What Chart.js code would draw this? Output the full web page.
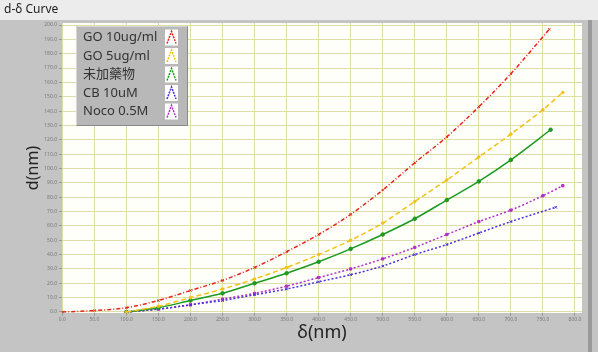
<!DOCTYPE html>
<html>
<head>
<meta charset="utf-8">
<script src="https://cdn.jsdelivr.net/npm/chart.js@4/dist/chart.umd.min.js"></script>
<style>
  body { margin: 0; background: #c4c4c4; }
  #wrap { width: 598px; height: 352px; }
</style>
</head>
<body>
<div id="wrap"><canvas id="curveChart"></canvas></div>
<script>
//Подписи делений осей
const xTicks = [0, 50, 100, 150, 200, 250, 300, 350, 400, 450, 500, 550, 600, 650, 700, 750, 800];
const yTicks = [0, 10, 20, 30, 40, 50, 60, 70, 80, 90, 100, 110, 120, 130, 140, 150, 160, 170, 180, 190, 200];

//GO 10ug/ml
const deltaGo10 = [0, 50, 100, 150, 200, 250, 300, 350, 400, 450, 500, 550, 600, 650, 700, 760];
const dGo10 = [0, 1, 3, 8, 15, 22, 31, 42, 54, 68, 85, 104, 122, 143, 166, 197];

//GO 5ug/ml
const deltaGo5 = [100, 150, 200, 250, 300, 350, 400, 450, 500, 550, 600, 650, 700, 750, 781];
const dGo5 = [0, 4, 10, 16, 23, 31, 40, 50, 62, 77, 92, 108, 124, 141, 153];

//未加藥物
const deltaCtrl = [100, 150, 200, 250, 300, 350, 400, 450, 500, 550, 600, 650, 700, 762];
const dCtrl = [0, 3, 8, 13, 20, 27, 35, 44, 54, 65, 78, 91, 106, 127];

//CB 10uM
const deltaCb = [100, 150, 200, 250, 300, 350, 400, 450, 500, 550, 600, 650, 700, 770];
const dCb = [0, 2, 5, 8, 12, 16, 21, 26, 32, 40, 47, 55, 63, 73];

//Noco 0.5M
const deltaNoco = [100, 150, 200, 250, 300, 350, 400, 450, 500, 550, 600, 650, 700, 750, 781];
const dNoco = [0, 2, 5, 9, 13, 18, 24, 30, 37, 45, 54, 63, 71, 81, 88];

const fontFamily = '"Noto Sans", "Noto Sans CJK TC", sans-serif';

function toPoints(xs, ys) {
    return xs.map((x, i) => ({ x: x, y: ys[i] }));
}

//Фон панели и области графика
const panelBackground = {
    id: 'panelBackground',
    beforeDraw(chart) {
        const ctx = chart.ctx;
        const area = chart.chartArea;
        ctx.save();
        ctx.fillStyle = '#c4c4c4';
        ctx.fillRect(0, 0, chart.width, chart.height);
        ctx.fillStyle = '#ececec';
        ctx.fillRect(0, 0, chart.width, 20);
        ctx.fillStyle = '#9a9a9a';
        ctx.fillRect(588, 20, 4, chart.height - 20);
        ctx.fillStyle = '#fffffa';
        ctx.fillRect(area.left, area.top, area.right - area.left, area.bottom - area.top);
        ctx.restore();
    },
    afterDraw(chart) {
        const ctx = chart.ctx;
        ctx.save();
        ctx.fillStyle = '#222';
        ctx.font = '12px ' + fontFamily;
        ctx.textBaseline = 'middle';
        ctx.fillText('d-δ Curve', 4, 10);
        ctx.restore();
    }
};

//Легенда в левом верхнем углу
const legendBox = {
    id: 'legendBox',
    afterDraw(chart) {
        const ctx = chart.ctx;
        ctx.save();
        ctx.fillStyle = '#b8b8b8';
        ctx.fillRect(76, 26, 112, 100);
        ctx.strokeStyle = '#d6d6d6';
        ctx.lineWidth = 1;
        ctx.beginPath();
        ctx.moveTo(76.5, 125.5);
        ctx.lineTo(76.5, 26.5);
        ctx.lineTo(187.5, 26.5);
        ctx.stroke();
        ctx.strokeStyle = '#8a8a8a';
        ctx.beginPath();
        ctx.moveTo(187.5, 26.5);
        ctx.lineTo(187.5, 125.5);
        ctx.lineTo(76.5, 125.5);
        ctx.stroke();

        ctx.font = '13px ' + fontFamily;
        ctx.textBaseline = 'middle';
        chart.data.datasets.forEach((ds, i) => {
            const y = 37.5 + i * 18.5;
            ctx.fillStyle = '#333333';
            ctx.fillText(ds.label, 83, y);

            ctx.fillStyle = '#ffffff';
            ctx.fillRect(165, y - 8, 13, 16);
            ctx.strokeStyle = ds.borderColor;
            ctx.lineWidth = 1.5;
            ctx.setLineDash([2, 1]);
            ctx.beginPath();
            ctx.moveTo(167, y + 6);
            ctx.lineTo(171.5, y - 6);
            ctx.lineTo(176, y + 6);
            ctx.stroke();
            ctx.setLineDash([]);
        });
        ctx.restore();
    }
};

const datasets = [
    {
        label: 'GO 10ug/ml',
        data: toPoints(deltaGo10, dGo10),
        borderColor: '#e3261c',
        backgroundColor: '#e3261c',
        borderDash: [4, 2, 1, 2],
        pointStyle: 'crossRot',
        pointRadius: 1.6
    },
    {
        label: 'GO 5ug/ml',
        data: toPoints(deltaGo5, dGo5),
        borderColor: '#f2c214',
        backgroundColor: '#f2c214',
        borderDash: [5, 3],
        pointStyle: 'circle',
        pointRadius: 1.3
    },
    {
        label: '未加藥物',
        data: toPoints(deltaCtrl, dCtrl),
        borderColor: '#1c9a22',
        backgroundColor: '#1c9a22',
        borderDash: [],
        pointStyle: 'circle',
        pointRadius: 1.8
    },
    {
        label: 'CB 10uM',
        data: toPoints(deltaCb, dCb),
        borderColor: '#4a30e0',
        backgroundColor: '#4a30e0',
        borderDash: [2, 2],
        pointStyle: 'crossRot',
        pointRadius: 1.8
    },
    {
        label: 'Noco 0.5M',
        data: toPoints(deltaNoco, dNoco),
        borderColor: '#b030c8',
        backgroundColor: '#b030c8',
        borderDash: [2, 2],
        pointStyle: 'rect',
        pointRadius: 1.6
    }
];

const config = {
    type: 'scatter',
    data: { datasets: datasets },
    options: {
        responsive: true,
        maintainAspectRatio: false,
        animation: false,
        layout: { padding: { top: 23, right: 16, left: 0, bottom: 0 } },
        elements: {
            line: { borderWidth: 1.5, tension: 0.3, fill: false },
            point: { borderWidth: 1 }
        },
        datasets: { scatter: { showLine: true } },
        plugins: {
            legend: { display: false },
            tooltip: { enabled: false }
        },
        scales: {
            x: {
                type: 'linear',
                min: -0.5,
                max: 811,
                afterBuildTicks: scale => { scale.ticks = xTicks.map(v => ({ value: v })); },
                afterFit: scale => { scale.height = 39; },
                grid: { color: '#dedca8', tickLength: 3, tickColor: '#999' },
                border: { display: false },
                ticks: {
                    autoSkip: false,
                    maxRotation: 0,
                    padding: 1,
                    color: '#7a7a7a',
                    font: { size: 5, family: fontFamily },
                    callback: v => Number(v).toFixed(1)
                },
                title: {
                    display: true,
                    text: 'δ(nm)',
                    color: '#222',
                    font: { size: 18, family: fontFamily },
                    padding: { top: 0, bottom: 8 }
                }
            },
            y: {
                type: 'linear',
                min: -0.7,
                max: 201.4,
                afterBuildTicks: scale => { scale.ticks = yTicks.map(v => ({ value: v })); },
                afterFit: scale => { scale.width = 62; },
                grid: { color: '#dedca8', tickLength: 3, tickColor: '#999' },
                border: { display: false },
                ticks: {
                    autoSkip: false,
                    padding: 2,
                    color: '#7a7a7a',
                    font: { size: 5, family: fontFamily },
                    callback: v => Number(v).toFixed(1)
                },
                title: {
                    display: true,
                    text: 'd(nm)',
                    color: '#222',
                    font: { size: 16, family: fontFamily },
                    padding: { top: 24, bottom: 0 }
                }
            }
        }
    },
    plugins: [panelBackground, legendBox]
};

const curveChart = new Chart(document.getElementById('curveChart'), config);
</script>
</body>
</html>
